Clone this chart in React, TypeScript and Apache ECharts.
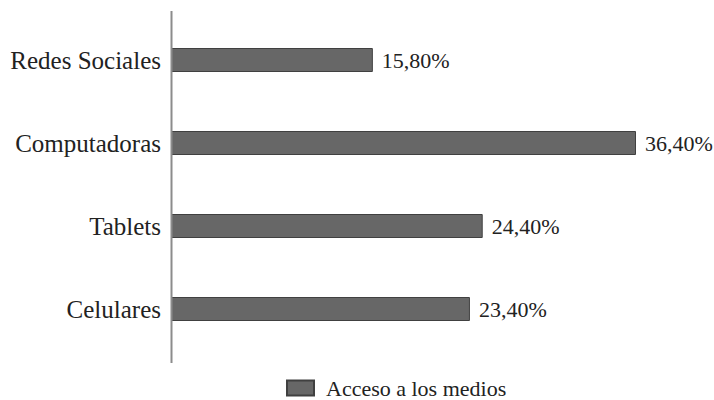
import React, { useEffect, useRef } from "react";
import * as echarts from "echarts";

const categories = ["Celulares", "Tablets", "Computadoras", "Redes Sociales"];
const values = [23.4, 24.4, 36.4, 15.8];
const seriesName = "Acceso a los medios";

const FONT = "'Liberation Serif', 'DejaVu Serif', serif";

export default function App() {
  const ref = useRef<HTMLDivElement>(null);
  useEffect(() => {
    if (!ref.current) return;
    const chart = echarts.init(ref.current, null, { renderer: "svg" });
    chart.setOption({
      animation: false,
      textStyle: { fontFamily: FONT },
      grid: { left: 171, right: 32, top: 18.5, bottom: 49.5, containLabel: false },
      xAxis: {
        type: "value",
        min: 0,
        max: 40,
        show: false,
      },
      yAxis: {
        type: "category",
        data: categories,
        axisLine: { show: false },
        axisTick: { show: false },
        axisLabel: { fontFamily: FONT, fontSize: 25, color: "#222", margin: 10 },
        splitLine: { show: false },
      },
      legend: {
        left: 286,
        top: 377,
        padding: 0,
        icon: "rect",
        itemWidth: 27,
        itemHeight: 15,
        itemGap: 11,
        textStyle: { fontFamily: FONT, fontSize: 22, color: "#222", lineHeight: 22, padding: [0, 0, 0, 7] },
        data: [seriesName],
      },
      graphic: [
        {
          type: "line",
          shape: { x1: 171.5, y1: 11, x2: 171.5, y2: 363 },
          style: { stroke: "#8c8c8c", lineWidth: 2 },
          z: 10,
        },
      ],
      series: [
        {
          name: seriesName,
          type: "bar",
          data: values,
          barWidth: 24,
          itemStyle: { color: "#676767", borderColor: "#404040", borderWidth: 1 },
          label: {
            show: true,
            position: "right",
            distance: 9,
            fontFamily: FONT,
            fontSize: 22,
            color: "#222",
            formatter: (p: any) => p.value.toFixed(2).replace(".", ",") + "%",
          },
        },
      ],
    });
    return () => chart.dispose();
  }, []);
  return <div ref={ref} style={{ width: 714, height: 400, position: "absolute", left: 0, top: 0 }} />;
}
